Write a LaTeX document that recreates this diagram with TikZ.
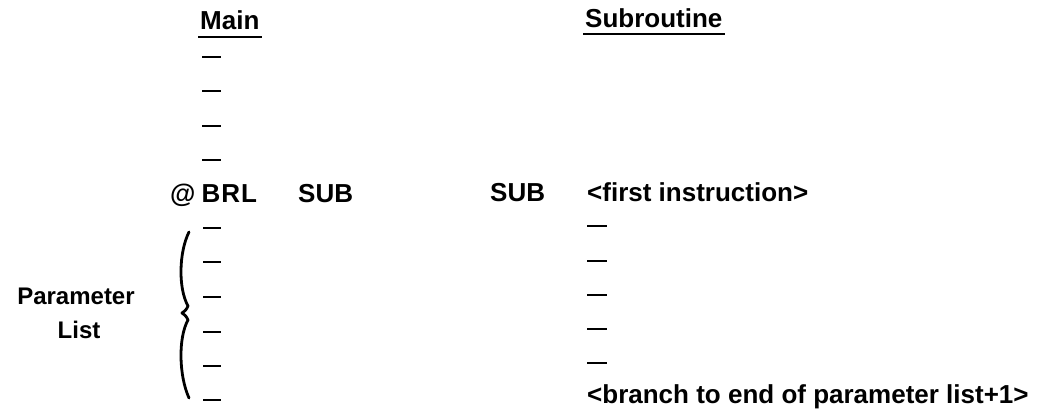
\documentclass[tikz,border=0pt]{standalone}
\usepackage{fontspec}
\setmainfont{Liberation Sans}
\begin{document}
\begin{tikzpicture}[x=1pt,y=-1pt,
  txt/.style={inner sep=0pt, anchor=base west, font=\fontsize{26}{30}\selectfont\bfseries},
  side/.style={inner sep=0pt, anchor=base, font=\fontsize{24}{28}\selectfont\bfseries},
  dashln/.style={line width=2.7pt},
  uline/.style={line width=2.5pt},
  bracestyle/.style={line width=2.8pt, line cap=round, line join=round}]
\useasboundingbox (0,0) rectangle (1050,411);
% headings
\node[txt] (main) at (200,30) {Main};
\draw[uline] ([xshift=-2pt,yshift=-7pt]main.base west) -- ([xshift=2pt,yshift=-7pt]main.base east);
\node[txt] (subr) at (585,28) {Subroutine};
\draw[uline] ([xshift=-2pt,yshift=-6pt]subr.base west) -- ([xshift=2pt,yshift=-6pt]subr.base east);
% main column dashes before call
\foreach \y in {57,91,126,160} \draw[dashln] (202,\y) -- (221,\y);
% call line
\node[txt] (brl) at (170,203) {@\hspace{6pt}B\hspace{1pt}R\hspace{1pt}L};
\node[txt] (sub1) at (298,203) {SUB};
% parameter list dashes
\foreach \y in {228,262,297,332,366,400} \draw[dashln] (203,\y) -- (221,\y);
% brace
\draw[bracestyle] (189,232) .. controls (179,252) and (178,288) .. (188,306)
  .. controls (186,310) .. (182,313) .. controls (186,316) .. (188,320)
  .. controls (178,338) and (179,376) .. (189,398);
\node[side] (param) at (76,305) {Parameter};
\node[side] (list) at (79,339) {List};
% subroutine
\node[txt] (sub2) at (490,202) {SUB};
\node[txt] (first) at (587,202) {\textless first instruction\textgreater};
\foreach \y in {226,261,295,329,363} \draw[dashln] (587,\y) -- (607,\y);
\node[txt] (branch) at (587,404) {\textless branch to end of parameter list+1\textgreater};
\end{tikzpicture}
\end{document}
